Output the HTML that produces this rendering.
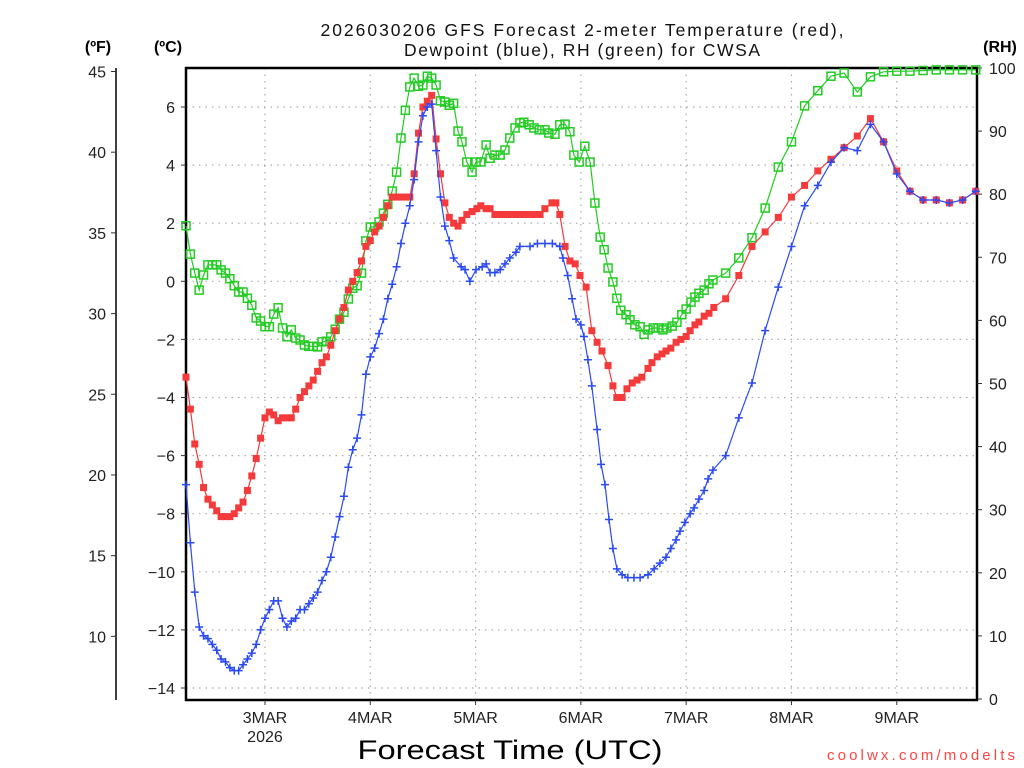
<!DOCTYPE html>
<html><head><meta charset="utf-8"><style>
html,body{margin:0;padding:0;background:#fff;}
svg{display:block;}
text{font-family:"Liberation Sans",sans-serif;}
</style></head><body>
<svg id="chart" width="1024" height="768" viewBox="0 0 1024 768" xmlns="http://www.w3.org/2000/svg">
<g id="grid"></g>
<g id="axes"></g>
<g id="series"></g>
<text x="582" y="36" text-anchor="middle" font-family="Liberation Mono, monospace" font-size="17.5" fill="#111" textLength="523">2026030206 GFS Forecast 2-meter Temperature (red),</text>
<text x="582" y="56" text-anchor="middle" font-family="Liberation Mono, monospace" font-size="17.5" fill="#111" textLength="356">Dewpoint (blue), RH (green) for CWSA</text>
<text x="98" y="52" text-anchor="middle" font-size="16" font-weight="bold" fill="#000">(ºF)</text>
<text x="168" y="52" text-anchor="middle" font-size="16" font-weight="bold" fill="#000">(ºC)</text>
<text x="1000" y="52" text-anchor="middle" font-size="16" font-weight="bold" fill="#000">(RH)</text>
<text x="510" y="759" text-anchor="middle" font-size="27" fill="#000" textLength="305" lengthAdjust="spacingAndGlyphs">Forecast Time (UTC)</text>
<text x="1015" y="760" text-anchor="end" font-family="Liberation Mono, monospace" font-size="15" fill="#f44" textLength="188">coolwx.com/modelts</text>
</svg>
<script>
const NS="http://www.w3.org/2000/svg";
// ---- data ----
const dayLabels=["3MAR","4MAR","5MAR","6MAR","7MAR","8MAR","9MAR"];
const dayHours=[18,42,66,90,114,138,162];
const celsiusTicks=[6,4,2,0,-2,-4,-6,-8,-10,-12,-14];
const fahrenheitTicks=[45,40,35,30,25,20,15,10];
const rhTicks=[100,90,80,70,60,50,40,30,20,10,0];

const tempHours=[0,1,2,3,4,5,6,7,8,9,10,11,12,13,14,15,16,17,18,19,20,21,22,23,24,25,26,27,28,29,30,31,32,33,34,35,36,37,38,39,40,41,42,43,44,45,46,47,48,49,50,51,52,53,54,55,56,57,58,59,60,61,62,62.9,64,65.2,66.3,67.2,68.4,69.3,70.4,71.6,72.7,73.8,75,76.1,77.2,78.4,79.5,80.7,81.8,83.4,84.3,85.2,86.4,87.5,88.7,89.8,91.2,92.5,93.7,94.8,96.2,97.3,98.2,99.4,100.5,101.7,102.8,103.9,105.3,106.2,107.4,108.5,109.4,110.5,111.7,112.8,114,114.9,116,116.9,118.1,119.2,120.3,123,126,129,132,135,138,141,144,147,150,153,156,159,162,165,168,171,174,177,180];
const tempC=[-3.3,-4.4,-5.6,-6.3,-7.1,-7.5,-7.7,-7.9,-8.1,-8.1,-8.1,-8.0,-7.8,-7.6,-7.2,-6.7,-6.1,-5.4,-4.7,-4.5,-4.6,-4.8,-4.7,-4.7,-4.7,-4.4,-4.0,-3.8,-3.6,-3.4,-3.1,-2.8,-2.6,-2.2,-1.7,-1.3,-0.9,-0.3,0.0,0.3,0.7,1.2,1.4,1.7,1.9,2.2,2.6,2.9,2.9,2.9,2.9,2.9,3.7,5.1,6.0,6.2,6.4,4.9,3.7,2.7,2.2,2.0,1.9,2.1,2.3,2.4,2.5,2.6,2.5,2.5,2.3,2.3,2.3,2.3,2.3,2.3,2.3,2.3,2.3,2.3,2.5,2.7,2.7,2.3,1.2,0.7,0.6,0.2,-0.2,-1.7,-2.1,-2.4,-2.9,-3.6,-4.0,-4.0,-3.7,-3.5,-3.4,-3.3,-3.0,-2.8,-2.6,-2.5,-2.4,-2.3,-2.1,-2.0,-1.9,-1.7,-1.5,-1.4,-1.2,-1.1,-0.9,-0.6,0.2,1.2,1.7,2.2,2.9,3.3,3.8,4.2,4.6,5.0,5.6,4.8,3.8,3.1,2.8,2.8,2.7,2.8,3.1];

const dewHours=[0,1,2,3,4,5,6,7,8,9,10,11,12,13,14,15,16,17,18,19,20,21,22,23,24,25,26,27,28,29,30,31,32,33,34,35,36,37,38,39,40,41,42,43,44,45,46,47,48,49,50,51,52,53,54,55,56,57,58,59,60,61,62.7,63.6,64.7,66.1,67.5,68.4,69.3,70.4,71.6,72.7,73.8,75.2,76.1,78.4,80.1,81.8,83.5,85.2,85.9,87,88,88.9,90,90.7,91.6,92.5,93.7,94.6,95.5,96.4,97.3,98.2,99.4,100.7,102.1,103.5,105.3,106.7,108,109.4,110.5,111.7,112.6,113.7,114.9,115.8,116.9,118.1,119,120.1,123,126,129,132,135,138,141,144,147,150,153,156,159,162,165,168,171,174,177,180];
const dewC=[-7.0,-9.0,-10.7,-11.9,-12.2,-12.3,-12.5,-12.7,-13.0,-13.1,-13.3,-13.4,-13.4,-13.2,-13.0,-12.8,-12.5,-12.0,-11.6,-11.3,-11.0,-11.0,-11.6,-11.9,-11.7,-11.6,-11.3,-11.3,-11.1,-10.9,-10.7,-10.3,-10.0,-9.5,-8.8,-8.1,-7.4,-6.4,-5.8,-5.4,-4.6,-3.2,-2.6,-2.3,-1.8,-1.3,-0.6,-0.1,0.5,1.3,2.0,2.6,3.5,4.8,5.7,6.0,6.1,4.5,2.9,1.9,1.4,0.8,0.5,0.4,0.0,0.4,0.5,0.6,0.3,0.3,0.4,0.6,0.8,1.0,1.2,1.2,1.3,1.3,1.3,1.2,0.8,0.2,-0.6,-1.3,-1.5,-1.9,-2.7,-3.6,-5.1,-6.3,-7.0,-8.2,-9.2,-9.9,-10.1,-10.2,-10.2,-10.2,-10.1,-9.9,-9.7,-9.5,-9.2,-8.9,-8.6,-8.3,-8.0,-7.8,-7.5,-7.2,-6.8,-6.5,-6.0,-4.7,-3.5,-1.7,-0.2,1.2,2.6,3.3,4.1,4.6,4.5,5.4,4.8,3.7,3.1,2.8,2.8,2.7,2.8,3.1];

const rhHours=[0,1,2,3,4,5,6,7,8,9,10,11,12,13,14,15,16,17,18,19,20,21,22,23,24,25,26,27,28,29,30,31,32,33,34,35,36,37,38,39,40,41,42,43,44,45,46,47,48,49,50,51,52,53,54,55,56,57,58,59,60,61,62,62.9,64,65.2,66.1,67.2,68.4,69.3,70.4,71.6,72.7,73.8,75,76.1,77,78.2,79.3,80.5,81.8,82.7,84.1,85.2,86.4,87.5,88.4,89.6,90.9,92.1,93.2,94.4,95.3,96.2,97.3,98.2,99.1,100.3,101.2,102.3,103.5,104.4,105.3,106.5,107.6,108.7,109.6,110.8,111.9,113,114,115.1,116,116.9,118.1,119.2,120.1,123,126,129,132,135,138,141,144,147,150,153,156,159,162,165,168,171,174,177,180];
const rhVals=[75.0,70.5,67.5,64.8,67.2,68.8,68.8,68.8,68.0,67.5,66.6,65.5,64.5,64.5,63.5,62.4,60.4,59.9,59.0,59.0,61.0,62.0,58.8,57.4,58.5,57.2,56.9,56.1,55.9,55.9,55.8,56.6,56.7,57.4,58.6,60.2,61.3,63.4,65.1,65.5,67.5,72.6,74.8,74.8,75.6,77.0,78.4,80.5,83.5,88.9,93.3,97.0,98.4,97.1,97.3,98.7,98.4,97.3,94.8,94.6,94.1,94.4,90.0,88.3,85.1,83.5,85.1,85.1,87.8,85.7,86.2,86.2,87.0,88.9,90.5,91.3,91.4,91.0,90.5,90.2,90.2,89.7,89.5,91.0,91.1,89.9,86.2,85.1,87.6,85.1,78.6,73.2,71.2,68.3,66.1,63.5,61.6,60.9,60.1,59.3,59.0,57.8,58.5,58.8,58.8,58.5,58.8,59.1,59.7,60.9,61.8,62.9,63.7,64.3,64.8,65.8,66.4,67.5,69.9,73.1,77.8,84.3,88.3,94.0,96.4,98.7,99.2,96.2,98.6,99.4,99.5,99.5,99.6,99.7,99.7,99.7,99.7];

// ---- scales ----
const X0=186,X1=977,Y0=68,Y1=700;
const xScale=h=>X0+h*(105.3/24);
const yC=c=>281.3-c*29.05;
const yF=f=>yC((f-32)*5/9);
const yRH=r=>699-r*6.31;

function mk(tag,attrs,parent){const e=document.createElementNS(NS,tag);for(const k in attrs)e.setAttribute(k,attrs[k]);parent.appendChild(e);return e;}
const grid=document.getElementById('grid'),axes=document.getElementById('axes'),series=document.getElementById('series');

// grid
celsiusTicks.forEach(c=>{
  const l=mk('line',{x1:X0,x2:X1,y1:yC(c),y2:yC(c),stroke:'#aaa','stroke-width':1.2,'stroke-dasharray':'1.5 5'},grid);
  
  
});
dayHours.forEach(h=>{
  const l=mk('line',{x1:xScale(h),x2:xScale(h),y1:Y0,y2:Y1,stroke:'#aaa','stroke-width':1.2,'stroke-dasharray':'1.5 5'},grid);
  
  
});

// frame
mk('rect',{x:X0,y:Y0,width:X1-X0,height:Y1-Y0,fill:'none',stroke:'#000','stroke-width':2.5},axes);
mk('line',{x1:116,x2:116,y1:Y0,y2:Y1+(-14*0)+(-14)+14,stroke:'#000','stroke-width':1.5},axes);

// celsius ticks
celsiusTicks.forEach(c=>{
  mk('line',{x1:X0-5,x2:X0,y1:yC(c),y2:yC(c),stroke:'#333'},axes);
  const t=mk('text',{x:175,y:yC(c)+6,'text-anchor':'end','font-size':16,fill:'#222'},axes);
  t.textContent=(c<0?'\u2212':'')+Math.abs(c);
  
  
});
fahrenheitTicks.forEach(f=>{
  mk('line',{x1:111,x2:116,y1:yF(f),y2:yF(f),stroke:'#333'},axes);
  const t=mk('text',{x:106,y:yF(f)+6,'text-anchor':'end','font-size':16,fill:'#222'},axes);
  t.textContent=f;
  
  
});
rhTicks.forEach(r=>{
  mk('line',{x1:X1,x2:X1+5,y1:yRH(r),y2:yRH(r),stroke:'#333'},axes);
  const t=mk('text',{x:989,y:yRH(r)+6,'text-anchor':'start','font-size':16,fill:'#222'},axes);
  t.textContent=r;
  
  
});
dayLabels.forEach((d,i)=>{
  mk('line',{x1:xScale(dayHours[i]),x2:xScale(dayHours[i]),y1:Y1,y2:Y1+5,stroke:'#333'},axes);
  const t=mk('text',{x:xScale(dayHours[i]),y:723,'text-anchor':'middle','font-size':16,fill:'#222'},axes);
  t.textContent=d;
  
  
});
const yr=mk('text',{x:xScale(dayHours[0]),y:742,'text-anchor':'middle','font-size':16,fill:'#222'},axes);
yr.textContent='2026';



function drawSeries(hours,vals,ys,color,kind,name){
  const g=mk('g',{},series);
  
  
  const pts=hours.map((h,i)=>xScale(h).toFixed(1)+','+ys(vals[i]).toFixed(1)).join(' ');
  mk('polyline',{points:pts,fill:'none',stroke:color,'stroke-width':1.2},g);
  hours.forEach((h,i)=>{
    const x=xScale(h),y=ys(vals[i]);let m;
    if(kind==='fsq')m=mk('rect',{x:x-3.5,y:y-3.5,width:7,height:7,fill:color},g);
    else if(kind==='osq')m=mk('rect',{x:x-4,y:y-4,width:8,height:8,fill:'none',stroke:color,'stroke-width':1.5},g);
    else m=mk('path',{d:`M${x-4},${y}H${x+4}M${x},${y-4}V${y+4}`,stroke:color,'stroke-width':1.5},g);
    
    
  });
}
drawSeries(rhHours,rhVals,yRH,'#22cc22','osq','rh-series');
drawSeries(tempHours,tempC,yC,'#f43a3a','fsq','temperature-series');
drawSeries(dewHours,dewC,yC,'#2a4af5','plus','dewpoint-series');
</script>
</body></html>
